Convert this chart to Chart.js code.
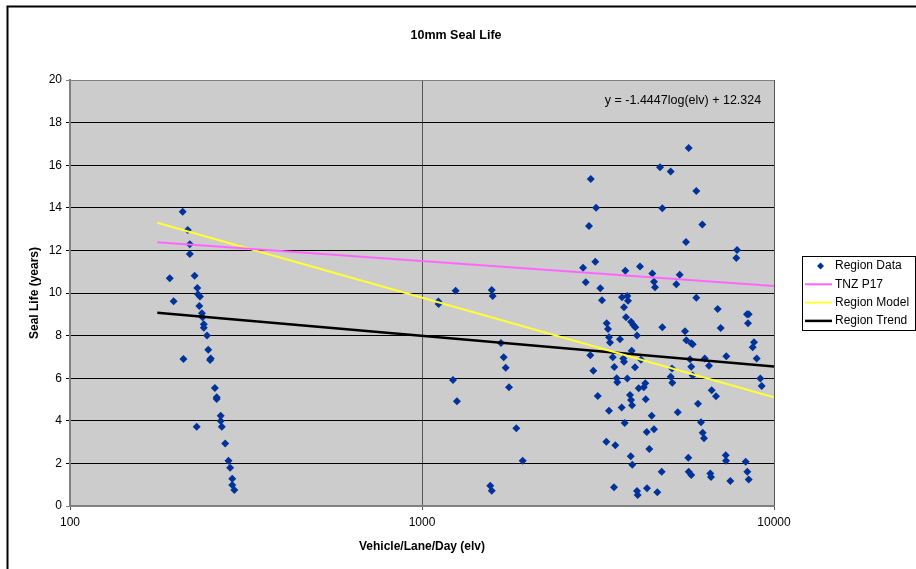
<!DOCTYPE html>
<html>
<head>
<meta charset="utf-8">
<title>10mm Seal Life</title>
<script src="https://cdn.jsdelivr.net/npm/chart.js@4.4.1/dist/chart.umd.min.js"></script>
<style>
  html, body { margin: 0; padding: 0; background: #fff; }
  #wrap { width: 916px; height: 569px; }
</style>
</head>
<body>
<div id="wrap"><canvas id="chart" width="916" height="569"></canvas></div>
<script>
const chartTitle = '10mm Seal Life';
const xTitle = 'Vehicle/Lane/Day (elv)';
const yTitle = 'Seal Life (years)';
const equationText = 'y = -1.4447log(elv) + 12.324';
const xTickValues = [100, 1000, 10000];

// Region Data (elv, years)
const regionElv = [
  209, 216, 219, 219, 192, 226, 230, 197, 231, 234, 233, 237, 238, 240, 240, 245, 247,
  251, 250, 210, 258, 261, 261, 268, 268, 270, 229, 276, 282, 285, 289, 289, 293,
  1113, 1115, 1246, 1578, 1588, 1676, 1706, 1729, 1225, 1767, 1257, 1853, 1932, 1563, 1578,
  3016, 3122, 2982, 3107, 2868, 2919, 3210, 3781, 4163, 3246, 3700, 3831, 3848, 3749, 3798,
  3347, 3376, 3925, 3984, 4036, 4081, 3398, 3420, 3652, 3007, 3942, 3482, 3732, 3749, 4190,
  3067, 3518, 4028, 3574, 3588, 3831, 4127, 4265, 4310, 3157, 3899, 3925, 3951, 3693, 4321,
  3398, 3765, 4350, 3339, 3541, 4423, 3917, 3958, 3511, 4081, 4100, 4358,
  5724, 4745, 5088, 6016, 4817, 6257, 5623, 7852, 7816, 4511, 4561, 4591, 5397, 5278, 6016,
  6920, 8381, 8474, 8435, 4817, 7057, 5587, 5634, 5821, 5875, 8772, 8698, 8930, 7320, 6356,
  5773, 5821, 6537, 5131, 5088, 5142, 5875, 9145, 9228, 6083, 6653, 6842, 5327, 4493, 4561,
  6203, 6272, 6325, 5709, 7292, 7305, 8310, 4797, 5724, 5821, 6592, 6622, 8397, 8474, 7514, 4661
];
const regionLife = [
  13.82, 12.96, 12.29, 11.83, 10.69, 10.81, 10.23, 9.61, 9.94, 9.83, 9.39, 9.05, 8.86, 8.53, 8.37, 8.01, 7.34,
  6.93, 6.85, 6.90, 5.54, 5.10, 5.02, 4.24, 3.99, 3.72, 3.72, 2.94, 2.13, 1.80, 1.28, 0.99, 0.75,
  9.60, 9.48, 10.10, 10.14, 9.86, 7.65, 6.98, 6.49, 5.92, 5.57, 4.92, 3.65, 2.13, 0.95, 0.72,
  15.35, 14.00, 13.15, 11.47, 11.19, 10.50, 10.22, 11.05, 11.24, 9.66, 9.80, 9.86, 9.64, 9.33, 8.86,
  8.58, 8.31, 8.65, 8.50, 8.39, 8.01, 7.92, 7.68, 7.83, 7.08, 7.29, 6.98, 6.92, 6.77, 6.87,
  6.35, 6.53, 6.51, 6.00, 5.81, 5.99, 5.53, 5.57, 5.76, 5.16, 5.21, 4.98, 4.73, 4.63, 5.01,
  4.47, 3.90, 3.47, 3.02, 2.85, 2.68, 2.33, 1.94, 0.88, 0.70, 0.52, 0.83,
  16.81, 15.90, 15.70, 14.79, 13.98, 13.22, 12.39, 12.02, 11.64, 10.92, 10.53, 10.27, 10.86, 10.41, 9.78,
  9.25, 9.00, 9.00, 8.58, 8.39, 8.36, 8.20, 7.78, 7.64, 7.59, 7.69, 7.45, 6.92, 7.03, 6.92,
  6.89, 6.54, 6.59, 6.45, 6.07, 5.79, 6.13, 5.99, 5.63, 4.80, 5.43, 5.15, 4.40, 4.24, 3.60,
  3.93, 3.44, 3.18, 2.27, 2.38, 2.13, 2.08, 1.61, 1.61, 1.46, 1.53, 1.36, 1.61, 1.24, 1.17, 0.64
];

// straight lines, end points
const tnzElv = [177, 10000];
const tnzLife = [12.38, 10.33];
const modelElv = [177, 10000];
const modelLife = [13.30, 5.10];
const trendElv = [177, 10000];
const trendLife = [9.07, 6.55];

const FONT = '"Liberation Sans", Arial, sans-serif';

function toPoints(xs, ys) {
  return xs.map((x, i) => ({ x: x, y: ys[i] }));
}

const decor = {
  id: 'decor',
  beforeDraw(chart) {
    const { ctx, chartArea: a } = chart;
    ctx.save();
    ctx.fillStyle = '#cccccc';
    ctx.fillRect(a.left, a.top, a.right - a.left, a.bottom - a.top);
    ctx.restore();
  },
  afterDraw(chart) {
    const ctx = chart.ctx;
    ctx.save();
    // outer frame (cropped at right and bottom)
    ctx.strokeStyle = '#000';
    ctx.lineWidth = 2;
    ctx.beginPath();
    ctx.moveTo(7.5, 569);
    ctx.lineTo(7.5, 6.5);
    ctx.lineTo(916, 6.5);
    ctx.stroke();

    ctx.fillStyle = '#000';
    ctx.textAlign = 'center';
    ctx.textBaseline = 'middle';
    ctx.font = 'bold 12.5px ' + FONT;
    ctx.fillText(chartTitle, 456, 36);
    ctx.font = '12.5px ' + FONT;
    ctx.fillText(equationText, 683, 101);

    // legend
    ctx.lineWidth = 1;
    ctx.strokeStyle = '#000';
    ctx.strokeRect(802.5, 256.5, 113, 74);
    ctx.textAlign = 'left';
    ctx.font = '12px ' + FONT;
    chart.data.datasets.forEach((ds, i) => {
      const y = 266 + i * 18.3;
      if (ds.showLine) {
        ctx.strokeStyle = ds.borderColor;
        ctx.lineWidth = ds.borderWidth;
        ctx.beginPath();
        ctx.moveTo(805, y);
        ctx.lineTo(832, y);
        ctx.stroke();
      } else {
        ctx.fillStyle = ds.backgroundColor;
        ctx.beginPath();
        ctx.moveTo(820.5, y - 3.5);
        ctx.lineTo(824, y);
        ctx.lineTo(820.5, y + 3.5);
        ctx.lineTo(817, y);
        ctx.closePath();
        ctx.fill();
      }
      ctx.fillStyle = '#000';
      ctx.fillText(ds.label, 835, y);
    });
    ctx.restore();
  }
};

new Chart(document.getElementById('chart'), {
  type: 'scatter',
  data: {
    datasets: [
      {
        label: 'Region Data',
        data: toPoints(regionElv, regionLife),
        showLine: false,
        pointStyle: 'rectRot',
        pointRadius: 4,
        backgroundColor: '#003399',
        borderColor: '#003399',
        borderWidth: 0,
        order: 1,
      },
      {
        label: 'TNZ P17',
        data: toPoints(tnzElv, tnzLife),
        showLine: true,
        borderColor: '#ff66ff',
        backgroundColor: '#ff66ff',
        borderWidth: 2,
        pointRadius: 0,
        order: 0,
      },
      {
        label: 'Region Model',
        data: toPoints(modelElv, modelLife),
        showLine: true,
        borderColor: '#ffff33',
        backgroundColor: '#ffff33',
        borderWidth: 2,
        pointRadius: 0,
        order: 0,
      },
      {
        label: 'Region Trend',
        data: toPoints(trendElv, trendLife),
        showLine: true,
        borderColor: '#000000',
        backgroundColor: '#000000',
        borderWidth: 2.5,
        pointRadius: 0,
        order: 0,
      },
    ],
  },
  options: {
    responsive: false,
    animation: false,
    layout: { padding: { top: 80, right: 142, bottom: 0, left: 0 } },
    plugins: {
      legend: { display: false },
      title: { display: false },
      tooltip: { enabled: false },
    },
    scales: {
      x: {
        type: 'logarithmic',
        min: 100,
        max: 10000,
        afterBuildTicks: (scale) => { scale.ticks = xTickValues.map(v => ({ value: v })); },
        afterFit: (scale) => { scale.height = 63; },
        ticks: {
          color: '#000',
          font: { family: FONT, size: 12 },
          padding: 5,
          maxRotation: 0,
          callback: (v) => String(v),
        },
        grid: { color: '#555555', lineWidth: 1, tickLength: 4 },
        border: { color: '#808080', width: 2 },
        title: {
          display: true,
          text: xTitle,
          color: '#000',
          font: { family: FONT, size: 12, weight: 'bold' },
          padding: { top: 0, bottom: 15 },
        },
      },
      y: {
        min: 0,
        max: 20,
        afterFit: (scale) => { scale.width = 70; },
        ticks: {
          stepSize: 2,
          color: '#000',
          font: { family: FONT, size: 12 },
          padding: 4,
        },
        grid: {
          color: (c) => (c.tick && (c.tick.value === 20 || c.tick.value === 0)) ? '#808080' : '#000000',
          lineWidth: 1,
          tickLength: 4,
        },
        border: { color: '#808080', width: 2 },
        title: {
          display: true,
          text: yTitle,
          color: '#000',
          font: { family: FONT, size: 12, weight: 'bold' },
          padding: { top: 27, bottom: 0 },
        },
      },
    },
  },
  plugins: [decor],
});
</script>
</body>
</html>
